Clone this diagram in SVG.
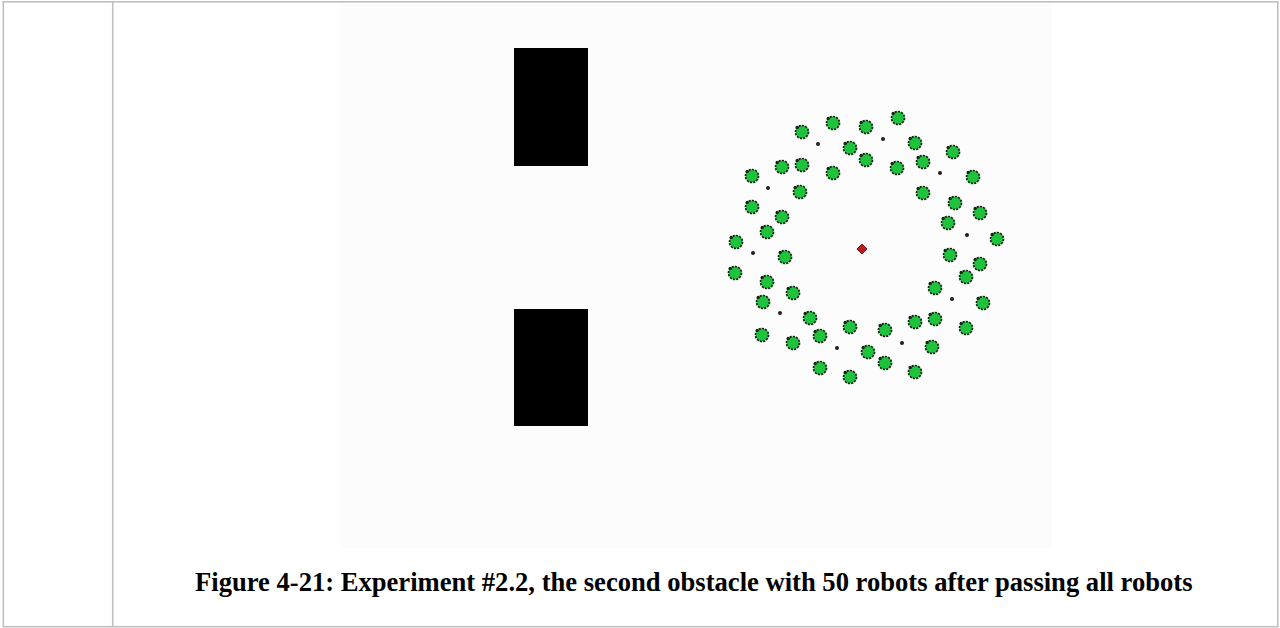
<svg xmlns="http://www.w3.org/2000/svg" xmlns:xlink="http://www.w3.org/1999/xlink" width="1280" height="628" viewBox="0 0 1280 628">
<style>
.frame{stroke:#c0c0c0;stroke-width:1.6;fill:none}
.obst{fill:#000}
.dot{fill:#2a1a1a}
.cap{font-family:"Liberation Serif","Times New Roman",serif;font-weight:bold;font-size:26.6px;fill:#000}
</style>
<defs>
<g id="robot">
<circle r="6.5" fill="#1fc23d" stroke="#142414" stroke-width="1.7" stroke-dasharray="2.2 1.1"/>
<circle cx="-4.8" cy="-4.6" r="1.7" fill="#142414"/>
</g>
</defs>
<rect width="1280" height="628" fill="#fff"/>
<g id="table">
<rect class="frame" x="3.3" y="1.8" width="1274.5" height="624.9"/>
<line class="frame" x1="112.7" y1="1.8" x2="112.7" y2="626.7"/>
</g>
<g id="figure">
<rect x="342" y="4" width="710" height="544" fill="#fcfcfc"/>
<rect class="obst" x="514" y="48" width="74" height="118"/>
<rect class="obst" x="514" y="309" width="74" height="117"/>
<path d="M862 244 L867 249 L862 254 L857 249 Z" fill="#b81e20" stroke="#8a1414" stroke-width="1" stroke-linejoin="round"/>
<g id="dots">
<circle class="dot" cx="818" cy="144" r="2"/>
<circle class="dot" cx="768" cy="188" r="2"/>
<circle class="dot" cx="883" cy="139" r="2"/>
<circle class="dot" cx="940" cy="173" r="2"/>
<circle class="dot" cx="967" cy="235" r="2"/>
<circle class="dot" cx="753" cy="253" r="2"/>
<circle class="dot" cx="780" cy="313" r="2"/>
<circle class="dot" cx="837" cy="348" r="2"/>
<circle class="dot" cx="952" cy="299" r="2"/>
<circle class="dot" cx="902" cy="343" r="2"/>
</g>
<g id="robots">
<use xlink:href="#robot" x="833" y="123"/>
<use xlink:href="#robot" x="866" y="127"/>
<use xlink:href="#robot" x="898" y="118"/>
<use xlink:href="#robot" x="802" y="132"/>
<use xlink:href="#robot" x="850" y="148"/>
<use xlink:href="#robot" x="866" y="160"/>
<use xlink:href="#robot" x="915" y="143"/>
<use xlink:href="#robot" x="953" y="152"/>
<use xlink:href="#robot" x="923" y="162"/>
<use xlink:href="#robot" x="897" y="168"/>
<use xlink:href="#robot" x="782" y="167"/>
<use xlink:href="#robot" x="802" y="165"/>
<use xlink:href="#robot" x="833" y="173"/>
<use xlink:href="#robot" x="752" y="176"/>
<use xlink:href="#robot" x="800" y="192"/>
<use xlink:href="#robot" x="973" y="177"/>
<use xlink:href="#robot" x="923" y="193"/>
<use xlink:href="#robot" x="752" y="207"/>
<use xlink:href="#robot" x="782" y="217"/>
<use xlink:href="#robot" x="955" y="203"/>
<use xlink:href="#robot" x="980" y="213"/>
<use xlink:href="#robot" x="948" y="223"/>
<use xlink:href="#robot" x="767" y="232"/>
<use xlink:href="#robot" x="736" y="242"/>
<use xlink:href="#robot" x="997" y="239"/>
<use xlink:href="#robot" x="785" y="257"/>
<use xlink:href="#robot" x="950" y="255"/>
<use xlink:href="#robot" x="980" y="264"/>
<use xlink:href="#robot" x="735" y="273"/>
<use xlink:href="#robot" x="767" y="282"/>
<use xlink:href="#robot" x="966" y="277"/>
<use xlink:href="#robot" x="793" y="293"/>
<use xlink:href="#robot" x="935" y="288"/>
<use xlink:href="#robot" x="763" y="302"/>
<use xlink:href="#robot" x="983" y="303"/>
<use xlink:href="#robot" x="810" y="318"/>
<use xlink:href="#robot" x="915" y="322"/>
<use xlink:href="#robot" x="935" y="319"/>
<use xlink:href="#robot" x="850" y="327"/>
<use xlink:href="#robot" x="885" y="330"/>
<use xlink:href="#robot" x="820" y="336"/>
<use xlink:href="#robot" x="762" y="335"/>
<use xlink:href="#robot" x="793" y="343"/>
<use xlink:href="#robot" x="966" y="328"/>
<use xlink:href="#robot" x="868" y="352"/>
<use xlink:href="#robot" x="932" y="347"/>
<use xlink:href="#robot" x="885" y="363"/>
<use xlink:href="#robot" x="820" y="368"/>
<use xlink:href="#robot" x="850" y="377"/>
<use xlink:href="#robot" x="915" y="372"/>
</g>
</g>
<text class="cap" x="195" y="591">Figure 4-21: Experiment #2.2, the second obstacle with 50 robots after passing all robots</text>
</svg>
